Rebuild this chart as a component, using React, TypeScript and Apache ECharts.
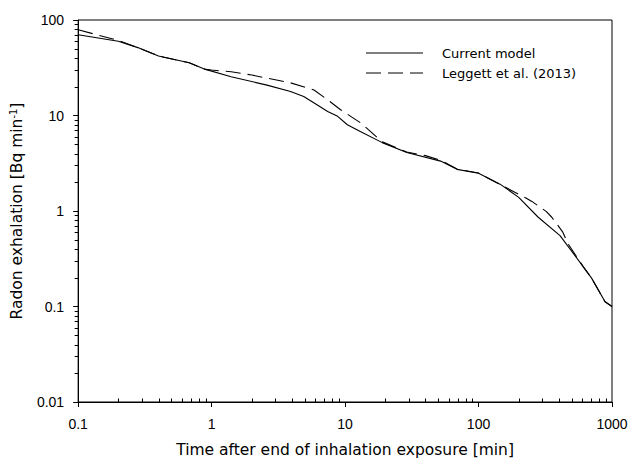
import React, { useEffect, useRef } from "react";
import * as echarts from "echarts";

// ---- data ----
const currentModelX = [0.1, 0.2, 0.28, 0.4, 0.68, 0.9, 1.4, 2.6, 3.9, 4.9, 6.2, 7.4, 8.8, 10.4, 13, 19, 29, 52, 69, 100, 145, 200, 280, 408, 610, 705, 887, 1000];
const currentModelY = [70, 60, 51.4, 42, 35.6, 30.4, 25.5, 20.8, 17.8, 15.8, 12.9, 11.0, 9.8, 8.0, 6.8, 5.2, 4.1, 3.33, 2.73, 2.48, 1.91, 1.39, 0.86, 0.553, 0.26, 0.197, 0.112, 0.1];

const leggettX = [0.1, 0.2, 0.28, 0.4, 0.68, 0.9, 1.0, 1.4, 2.0, 3.9, 5.85, 7.4, 9.25, 13.1, 19, 29, 40, 52, 69, 100, 122, 175, 228, 251, 321, 354, 428, 470, 610, 705, 887, 1000];
const leggettY = [79, 61, 51.4, 42, 35.6, 30.4, 29.9, 28.7, 26.5, 22.0, 18.5, 14.6, 11.5, 8.36, 5.3, 4.15, 3.8, 3.4, 2.75, 2.5, 2.15, 1.65, 1.36, 1.26, 0.99, 0.86, 0.6, 0.45, 0.26, 0.197, 0.112, 0.1];

const seriesNames = ["Current model", "Leggett et al. (2013)"];

const xTickLabels = ["0.1", "1", "10", "100", "1000"];
const yTickLabels = ["0.01", "0.1", "1", "10", "100"];
const xMinorTicks = [0.2, 0.3, 0.4, 0.5, 0.6, 0.7, 0.8, 0.9, 2, 3, 4, 5, 6, 7, 8, 9, 20, 30, 40, 50, 60, 70, 80, 90, 200, 300, 400, 500, 600, 700, 800, 900];
const yMinorTicks = [0.02, 0.03, 0.04, 0.05, 0.06, 0.07, 0.08, 0.09, 0.2, 0.3, 0.4, 0.5, 0.6, 0.7, 0.8, 0.9, 2, 3, 4, 5, 6, 7, 8, 9, 20, 30, 40, 50, 60, 70, 80, 90];

const X_MIN = 0.1;
const X_MAX = 1000;
const Y_MIN = 0.01;
const Y_MAX = 100;

const xTitle = "Time after end of inhalation exposure [min]";

const TITLE_FONT = "DejaVu Sans";
const TICK_FONT = "Liberation Sans";

export default function App() {
  const ref = useRef<HTMLDivElement>(null);

  useEffect(() => {
    if (!ref.current) return;
    const chart = echarts.init(ref.current, null, { renderer: "svg" });

    const zip = (xs: number[], ys: number[]) => xs.map((x, i) => [x, ys[i]]);

    const option: any = {
      animation: false,
      backgroundColor: "#fff",
      grid: {
        left: 77,
        right: 19,
        top: 20,
        bottom: 59,
        show: true,
        borderColor: "#000",
        borderWidth: 1,
        backgroundColor: "transparent",
      },
      xAxis: {
        type: "log",
        logBase: 10,
        min: X_MIN,
        max: X_MAX,
        name: xTitle,
        nameLocation: "middle",
        nameGap: 40,
        nameTextStyle: { fontFamily: TITLE_FONT, fontSize: 15.5, color: "#000" },
        axisLine: { show: true, lineStyle: { color: "#000", width: 1 } },
        axisTick: { show: true, inside: false, length: 5, lineStyle: { color: "#000" } },
        minorTick: { show: false },
        splitLine: { show: false },
        axisLabel: {
          margin: 15,
          fontFamily: TICK_FONT,
          fontSize: 14,
          color: "#000",
          formatter: (v: number) => xTickLabels[Math.round(Math.log10(v)) + 1] ?? "",
        },
      },
      yAxis: {
        type: "log",
        logBase: 10,
        min: Y_MIN,
        max: Y_MAX,
        name: "Radon exhalation [Bq min{sup|-1}]",
        nameLocation: "middle",
        nameGap: 41,
        nameRotate: 90,
        nameTextStyle: {
          fontFamily: TITLE_FONT,
          fontSize: 15.5,
          color: "#000",
          rich: {
            sup: {
              fontFamily: TITLE_FONT,
              fontSize: 10,
              color: "#000",
              verticalAlign: "top",
              lineHeight: 18,
              padding: [0, 0, 8, 0],
            },
          },
        },
        axisLine: { show: true, lineStyle: { color: "#000", width: 1 } },
        axisTick: { show: true, inside: false, length: 5, lineStyle: { color: "#000" } },
        minorTick: { show: false },
        splitLine: { show: false },
        axisLabel: {
          margin: 14,
          fontFamily: TICK_FONT,
          fontSize: 14,
          color: "#000",
          formatter: (v: number) => yTickLabels[Math.round(Math.log10(v)) + 2] ?? "",
        },
      },
      series: [
        {
          name: seriesNames[0],
          type: "line",
          data: zip(currentModelX, currentModelY),
          showSymbol: false,
          symbol: "none",
          lineStyle: { color: "#000", width: 1.1, type: "solid" },
          itemStyle: { color: "#000" },
          z: 3,
        },
        {
          name: seriesNames[1],
          type: "line",
          data: zip(leggettX, leggettY),
          showSymbol: false,
          symbol: "none",
          lineStyle: { color: "#000", width: 1.1, type: [15, 7] },
          itemStyle: { color: "#000" },
          z: 3,
        },
      ],
    };

    chart.setOption(option);

    const graphics: any[] = [];
    const toPx = (v: number[]) =>
      chart.convertToPixel({ xAxisIndex: 0, yAxisIndex: 0 }, v) as unknown as number[];
    const snap = (n: number) => Math.round(n) + 0.5;

    // minor ticks, placed through the axes' own log scales
    xMinorTicks.forEach((v) => {
      const p = toPx([v, Y_MIN]);
      if (!p || !isFinite(p[0]) || !isFinite(p[1])) return;
      const x = snap(p[0]);
      graphics.push({
        type: "line",
        silent: true,
        shape: { x1: x, y1: p[1], x2: x, y2: p[1] - 3.5 },
        style: { stroke: "#000", lineWidth: 1 },
        z: 10,
      });
    });
    yMinorTicks.forEach((v) => {
      const p = toPx([X_MIN, v]);
      if (!p || !isFinite(p[0]) || !isFinite(p[1])) return;
      const y = snap(p[1]);
      graphics.push({
        type: "line",
        silent: true,
        shape: { x1: p[0], y1: y, x2: p[0] - 3.5, y2: y },
        style: { stroke: "#000", lineWidth: 1 },
        z: 10,
      });
    });

    // legend (drawn as graphic elements)
    const legendRows = [
      { name: seriesNames[0], dash: null as number[] | null, y: 53 },
      { name: seriesNames[1], dash: [15, 7], y: 73 },
    ];
    legendRows.forEach((r) => {
      graphics.push({
        type: "line",
        silent: true,
        shape: { x1: 366, y1: r.y, x2: 423, y2: r.y },
        style: { stroke: "#000", lineWidth: 1.1, lineDash: r.dash || undefined },
        z: 10,
      });
      graphics.push({
        type: "text",
        silent: true,
        x: 442,
        y: r.y,
        style: {
          text: r.name,
          fontFamily: TITLE_FONT,
          fontSize: 13,
          fill: "#000",
          verticalAlign: "middle",
          align: "left",
        },
        z: 10,
      });
    });

    chart.setOption({ graphic: graphics });
    return () => chart.dispose();
  }, []);

  return (
    <div
      ref={ref}
      style={{ position: "fixed", left: 0, top: 0, width: 631, height: 463, background: "#fff" }}
    />
  );
}
